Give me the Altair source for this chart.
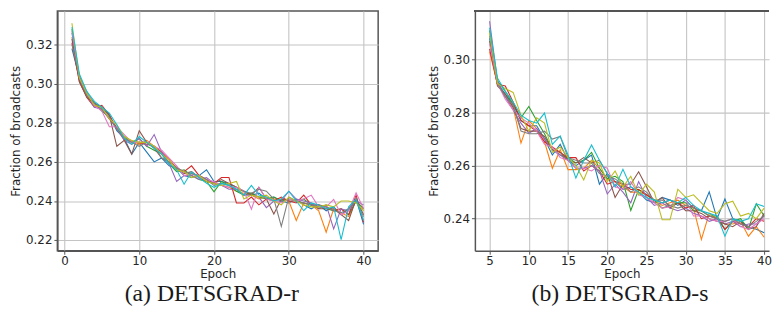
import altair as alt
import pandas as pd

SERIES = ["s0", "s1", "s2", "s3", "s4", "s5", "s6", "s7", "s8", "s9"]
COLORS = ["#1f77b4", "#ff7f0e", "#2ca02c", "#d62728", "#9467bd",
          "#8c564b", "#e377c2", "#7f7f7f", "#bcbd22", "#17becf"]

EPOCHS_A = list(range(1, 41))
EPOCHS_B = list(range(5, 41))

A_s0 = [.318,.303,.295,.290,.288,.284,.276,.272,.264,.270,.265,.260,.262,.258,.257,.253,.252,.253,.256,.250,
        .250,.249,.247,.245,.243,.244,.241,.242,.240,.239,.241,.238,.236,.238,.235,.237,.233,.236,.241,.228]
A_s1 = [.324,.304,.294,.289,.287,.282,.278,.271,.271,.269,.271,.268,.264,.261,.256,.255,.254,.252,.250,.249,
        .248,.247,.245,.244,.243,.241,.242,.241,.241,.240,.230,.239,.238,.235,.224,.236,.234,.232,.240,.236]
A_s2 = [.328,.302,.295,.290,.286,.283,.277,.273,.270,.272,.268,.266,.264,.259,.255,.256,.253,.251,.250,.2447,
        .250,.248,.245,.243,.244,.242,.241,.242,.240,.241,.240,.241,.238,.237,.236,.235,.236,.233,.240,.236]
A_s3 = [.321,.301,.293,.288,.289,.284,.277,.272,.270,.270,.269,.268,.265,.261,.257,.255,.258,.253,.251,.249,
        .252,.252,.239,.239,.242,.238,.241,.240,.242,.240,.239,.243,.238,.238,.237,.235,.236,.233,.243,.229]
A_s4 = [.326,.302,.294,.288,.287,.282,.277,.271,.269,.272,.268,.274,.265,.259,.250,.253,.253,.251,.252,.249,
        .248,.246,.246,.243,.243,.242,.2366,.240,.240,.245,.241,.240,.239,.236,.238,.2257,.236,.235,.240,.238]
A_s5 = [.323,.301,.293,.290,.288,.284,.268,.271,.264,.276,.270,.267,.262,.260,.257,.254,.255,.252,.250,.249,
        .251,.249,.247,.245,.243,.247,.241,.2333,.241,.240,.240,.239,.238,.236,.236,.236,.233,.230,.241,.233]
A_s6 = [.327,.303,.296,.289,.286,.278,.278,.274,.270,.270,.270,.268,.266,.262,.258,.253,.254,.252,.251,.250,
        .248,.247,.247,.245,.2358,.247,.241,.240,.239,.241,.240,.241,.243,.237,.237,.2408,.233,.235,.2442,.236]
A_s7 = [.320,.304,.294,.290,.287,.283,.277,.272,.270,.268,.270,.268,.262,.260,.257,.255,.254,.253,.251,.248,
        .249,.248,.246,.245,.244,.246,.245,.241,.227,.242,.240,.239,.238,.237,.237,.235,.234,.236,.240,.232]
A_s8 = [.331,.303,.295,.289,.288,.282,.279,.273,.271,.270,.270,.268,.264,.261,.256,.255,.252,.253,.250,.249,
        .248,.249,.250,.241,.243,.242,.243,.240,.238,.242,.240,.238,.237,.237,.238,.237,.240,.240,.239,.235]
A_s9 = [.329,.305,.296,.291,.288,.285,.279,.272,.269,.273,.270,.267,.264,.259,.256,.2486,.255,.252,.249,.247,
        .249,.248,.246,.243,.248,.243,.242,.240,.241,.245,.240,.235,.239,.238,.236,.237,.2202,.237,.241,.230]

B_s0 = [.308,.291,.287,.283,.277,.275,.275,.270,.264,.268,.262,.260,.262,.264,.253,.257,.254,.251,
        .252,.250,.247,.246,.248,.247,.245,.247,.244,.243,.2501,.240,.2474,.240,.239,.237,.236,.2347]
B_s1 = [.303,.2907,.286,.282,.2685,.277,.274,.269,.259,.266,.2585,.2585,.259,.262,.259,.255,.254,.252,
        .250,.250,.249,.247,.245,.246,.247,.245,.244,.2322,.242,.240,.238,.238,.239,.2334,.237,.233]
B_s2 = [.311,.292,.288,.283,.278,.2823,.277,.272,.266,.264,.263,.261,.262,.265,.259,.255,.256,.254,
        .2431,.251,.249,.247,.244,.245,.246,.246,.243,.243,.241,.241,.236,.239,.240,.236,.2456,.241]
B_s3 = [.304,.2907,.290,.284,.277,.275,.273,.269,.267,.265,.263,.263,.258,.260,.258,.253,.254,.253,
        .251,.251,.249,.247,.246,.247,.246,.244,.245,.240,.241,.240,.236,.239,.238,.237,.240,.239]
B_s4 = [.3144,.292,.286,.281,.276,.2722,.274,.270,.266,.264,.262,.259,.259,.260,.258,.2493,.253,.250,
        .246,.254,.248,.245,.246,.244,.243,.244,.242,.241,.239,.240,.238,.239,.237,.238,.238,.241]
B_s5 = [.307,.290,.287,.282,.274,.273,.273,.271,.266,.265,.262,.261,.263,.261,.262,.257,.248,.253,
        .253,.2577,.252,.246,.248,.244,.246,.243,.243,.242,.240,.239,.238,.237,.239,.236,.237,.242]
B_s6 = [.306,.291,.285,.281,.278,.276,.273,.268,.267,.263,.262,.259,.259,.258,.260,.259,.252,.251,
        .254,.249,.248,.246,.244,.2445,.248,.247,.241,.241,.240,.239,.239,.240,.237,.236,.238,.240]
B_s7 = [.309,.291,.286,.283,.273,.272,.272,.273,.270,.271,.263,.262,.261,.261,.257,.256,.255,.253,
        .250,.252,.250,.247,.247,.245,.244,.245,.244,.243,.241,.240,.239,.240,.238,.237,.239,.241]
B_s8 = [.310,.291,.289,.2876,.279,.273,.278,.276,.265,.267,.263,.260,.2546,.262,.261,.254,.258,.252,
        .256,.249,.253,.250,.2396,.2396,.2511,.248,.249,.246,.243,.242,.2456,.2466,.241,.242,.240,.244]
B_s9 = [.312,.293,.288,.284,.279,.277,.276,.2798,.268,.2712,.264,.2553,.262,.2678,.262,.257,.252,.2586,
        .252,.250,.248,.247,.246,.247,.246,.248,.245,.243,.242,.241,.2334,.240,.239,.240,.2456,.2446]

A_VALUES = [A_s0, A_s1, A_s2, A_s3, A_s4, A_s5, A_s6, A_s7, A_s8, A_s9]
B_VALUES = [B_s0, B_s1, B_s2, B_s3, B_s4, B_s5, B_s6, B_s7, B_s8, B_s9]

Y_TICKS_A = [0.22, 0.24, 0.26, 0.28, 0.30, 0.32]
Y_TICKS_B = [0.24, 0.26, 0.28, 0.30]
X_TICKS_A = [0, 10, 20, 30, 40]
X_TICKS_B = [5, 10, 15, 20, 25, 30, 35, 40]


def long_df(epochs, values):
    rows = []
    for name, vals in zip(SERIES, values):
        for e, v in zip(epochs, vals):
            rows.append({"series": name, "epoch": e, "value": v})
    return pd.DataFrame(rows)


df_a = long_df(EPOCHS_A, A_VALUES)
df_b = long_df(EPOCHS_B, B_VALUES)

SPINE = "#555555"
TXT = "#262626"
color_scale = alt.Scale(domain=SERIES, range=COLORS)


def panel(df, xdom, ydom, xticks, yticks, w, caption, cap_dx, stroke):
    base = alt.Chart(df).mark_line(strokeWidth=1.1, clip=True).encode(
        x=alt.X("epoch:Q", title="Epoch",
                scale=alt.Scale(domain=xdom, nice=False, zero=False),
                axis=alt.Axis(values=xticks, format="d")),
        y=alt.Y("value:Q", title="Fraction of broadcasts",
                scale=alt.Scale(domain=ydom, nice=False, zero=False),
                axis=alt.Axis(values=yticks, format=".2f")),
        color=alt.Color("series:N", scale=color_scale, legend=None),
        order=alt.Order("series:N"),
    )
    layers = [base]
    if not stroke:
        top = alt.Chart(df).mark_rule(color=SPINE, strokeWidth=1.5).encode(
            x=alt.value(0), x2=alt.value(w), y=alt.value(0))
        layers.append(top)
    ch = alt.layer(*layers).properties(
        width=w, height=243,
        title=alt.TitleParams(caption, orient="bottom", font="Liberation Serif",
                              fontSize=24, fontWeight="normal", color="#1a1a1a",
                              offset=2.8, dx=cap_dx),
        view=alt.ViewConfig(stroke=SPINE if stroke else None, strokeWidth=1.5),
    )
    return ch


left = panel(df_a, [-0.95, 41.95], [0.2145, 0.3373], X_TICKS_A, Y_TICKS_A, 325,
             "(a) DETSGRAD-r", -6, True)
right = panel(df_b, [3.125, 40.625], [0.2279, 0.3183], X_TICKS_B, Y_TICKS_B, 298,
              "(b) DETSGRAD-s", -2, False)

chart = alt.hconcat(left, right, spacing=48).properties(
    padding={"left": 1, "top": 0, "right": 0, "bottom": 0},
    background="white",
).configure_axis(
    labelFont="DejaVu Sans", labelFontSize=12, labelColor=TXT,
    titleFont="DejaVu Sans", titleFontSize=12, titleFontWeight="normal", titleColor=TXT,
    tickColor=SPINE, tickSize=3.5, tickWidth=1, labelPadding=2,
    domainColor=SPINE, domainWidth=1.5,
    gridColor="#c4c4c4", gridWidth=1.1,
).configure_axisX(titlePadding=2.3, labelPadding=1.5).configure_axisY(titlePadding=3)

chart.save("out.html", embed_options={"renderer": "svg", "actions": False})
